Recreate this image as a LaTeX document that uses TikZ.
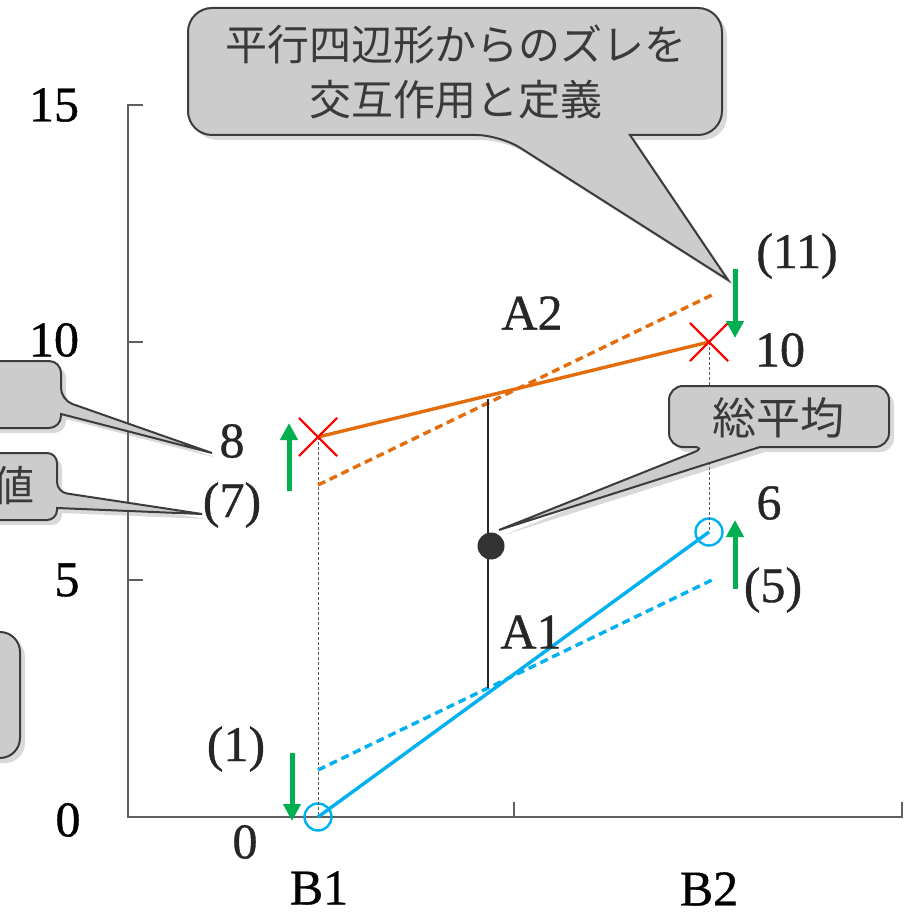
\documentclass[tikz,border=0pt]{standalone}
\usepackage{fontspec}
\setmainfont{Liberation Serif}
\newfontfamily\numfont[FakeBold=0.8]{Liberation Serif}
\newfontfamily\jpfont{Noto Sans CJK JP}
\usetikzlibrary{arrows.meta,shapes.misc,shadows}
\definecolor{orng}{HTML}{E46C0A}
\definecolor{cyanb}{HTML}{00B0F0}
\definecolor{grn}{HTML}{00B050}
\definecolor{calfill}{HTML}{CCCCCC}
\definecolor{calline}{HTML}{3C3C3C}
\definecolor{axisc}{HTML}{5F5F5F}
\definecolor{txt}{HTML}{262626}
\definecolor{jpgray}{HTML}{3A3A3A}
\begin{document}
\begin{tikzpicture}[x=0.5pt,y=-0.5pt,
  lbl/.style={font=\numfont\fontsize{25}{30}\selectfont, text=txt, inner sep=0pt},
  jp/.style={font=\jpfont\fontsize{21}{27.5}\selectfont, text=jpgray, align=center, inner sep=0pt},
  callout/.style={fill=calfill, draw=calline, line width=1pt,
    drop shadow={shadow xshift=2.5pt, shadow yshift=-2.5pt, opacity=0.3}},
  gar/.style={draw=grn, line width=2.5pt, -{Triangle[width=8.5pt,length=8.5pt]}},
  dline/.style={line width=1.7pt},
  guide/.style={draw=black!65, line width=0.5pt, dash pattern=on 1.5pt off 1pt},
  xmark/.style={cross out, draw=red, line width=0.9pt, minimum size=19pt, inner sep=0pt, outer sep=0pt},
  omark/.style={circle, draw=cyanb, line width=1.2pt, minimum size=13.5pt, inner sep=0pt}]
\useasboundingbox (0,0) rectangle (922,915);

% axes
\coordinate (ytop) at (128,105);
\coordinate (orig) at (128,817);
\coordinate (xend) at (902,817);
\draw[axisc, line width=0.8pt] (143,105) -- (ytop) -- (orig) -- (xend) -- (902,802);
\draw[axisc, line width=0.8pt] (128,342) -- (143,342) (128,580) -- (143,580) (514,817) -- (514,802);

% axis labels
\node[lbl, text=black] (y15) at (54,105) {15};
\node[lbl, text=black] (y10) at (54,340) {10};
\node[lbl, text=black] (y5) at (67,580) {5};
\node[lbl, text=black] (y0) at (68,820) {0};
\node[lbl, text=black] (xb1) at (319,888) {B1};
\node[lbl, text=black] (xb2) at (709,889) {B2};

% data points
\node[xmark] (x1) at (318,437) {};
\node[xmark] (x2) at (709,342) {};
\node[omark] (c1) at (318,817) {};
\node[omark] (c2) at (709,532) {};
\coordinate (p7) at (318,485);
\coordinate (p11) at (712,295);
\coordinate (p1) at (318,770);
\coordinate (p5) at (712,580);

% guides
\draw[guide] (x1.center) -- (c1.center);
\draw[guide] (x2.center) -- (c2.center);

% lines
\draw[orng, dline] (x1.center) -- (x2.center);
\draw[orng, dline, dash pattern=on 4pt off 2.5pt] (p7) -- (p11);
\draw[cyanb, dline] (c1.center) -- (c2.center);
\draw[cyanb, dline, dash pattern=on 4pt off 2.5pt] (p1) -- (p5);

% redraw markers on top
\node[xmark] at (318,437) {};
\node[xmark] at (709,342) {};

% mean line and dot
\coordinate (mtop) at (488,399);
\coordinate (mbot) at (488,688);
\draw[black!85, line width=0.7pt] (mtop) -- (mbot);
\node[circle, fill=black!80, minimum size=13.5pt, inner sep=0pt] (gm) at (491,546) {};

% green arrows
\coordinate (g1s) at (289,491); \coordinate (g1e) at (289,423);
\coordinate (g2s) at (292,753); \coordinate (g2e) at (292,821);
\coordinate (g3s) at (735,269); \coordinate (g3e) at (735,338);
\coordinate (g4s) at (735,589); \coordinate (g4e) at (735,520);
\draw[gar] (g1s) -- (g1e);
\draw[gar] (g2s) -- (g2e);
\draw[gar] (g3s) -- (g3e);
\draw[gar] (g4s) -- (g4e);

% data labels
\node[lbl] (l11) at (797,256) {(11)};
\node[lbl] (l10) at (780,350) {10};
\node[lbl] (l6) at (769,503) {6};
\node[lbl] (l5) at (773,590) {(5)};
\node[lbl] (l8) at (232,441) {8};
\node[lbl] (l7) at (232,505) {(7)};
\node[lbl] (l1) at (236,749) {(1)};
\node[lbl] (l0) at (245,842) {0};
\node[lbl] (la2) at (532,313) {A2};
\node[lbl] (la1) at (531,632) {A1};

% callouts
\path[callout] (630,135) [rounded corners=12pt] -- (722,135) -- (722,8) -- (188,8) -- (188,135) -- (500,135) [sharp corners] -- (728,280) -- cycle;
\node[jp] (topt) at (456,72) {平行四辺形からのズレを\\交互作用と定義};

\path[callout] (760,447) [rounded corners=7pt] -- (889,447) -- (889,386) -- (669,386) -- (669,447) -- (707,447) [sharp corners] -- (499,530) -- cycle;
\node[jp, font=\jpfont\fontsize{22}{27}\selectfont] (sohei) at (778,418) {総平均};

\path[callout] (61,414) [rounded corners=6pt] -- (61,428) -- (-40,428) -- (-40,361) -- (61,361) -- (61,400) [sharp corners] -- (212,453) -- cycle;
\path[callout] (57,508) [rounded corners=5pt] -- (57,520) -- (-40,520) -- (-40,453) -- (57,453) -- (57,492) [sharp corners] -- (202,514) -- cycle;
\node[jp, anchor=east] (atai) at (35,486) {値};
\path[callout, rounded corners=10pt] (-40,632) rectangle (20,758);
\end{tikzpicture}
\end{document}
